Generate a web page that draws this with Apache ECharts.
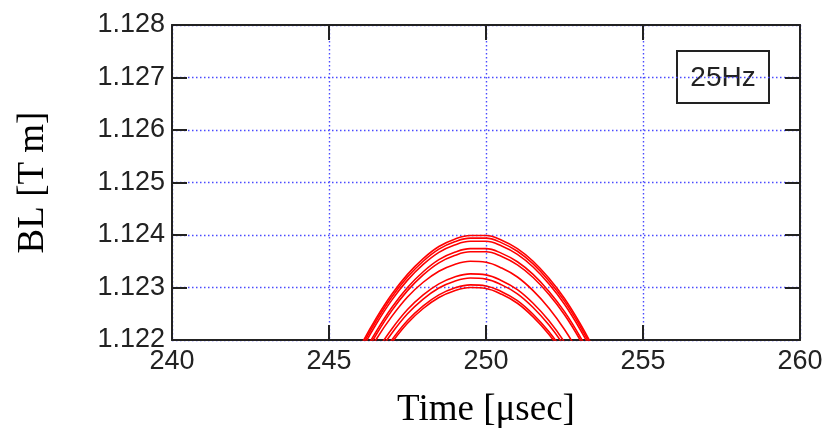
<!DOCTYPE html>
<html>
<head>
<meta charset="utf-8">
<script src="https://cdn.jsdelivr.net/npm/echarts@6/dist/echarts.min.js"></script>
<style>
html,body{margin:0;padding:0;background:#fff;}
#chart{width:836px;height:434px;}
</style>
</head>
<body>
<div id="chart"></div>
<script>
// ---- data ----
const timeUs = [245.5, 246.0, 246.5, 247.0, 247.5, 248.0, 248.5, 249.0, 249.5, 250.0, 250.5, 251.0, 251.5, 252.0, 252.5, 253.0, 253.5];
const curveA = [1.12127, 1.12188, 1.12241, 1.12287, 1.12325, 1.12355, 1.12378, 1.12392, 1.12399, 1.12399, 1.12390, 1.12374, 1.12350, 1.12318, 1.12279, 1.12231, 1.12176];
const curveB = [1.12122, 1.12183, 1.12236, 1.12282, 1.12320, 1.12350, 1.12373, 1.12387, 1.12394, 1.12394, 1.12385, 1.12369, 1.12345, 1.12313, 1.12274, 1.12226, 1.12171];
const curveC = [1.12116, 1.12177, 1.12230, 1.12276, 1.12314, 1.12344, 1.12367, 1.12381, 1.12388, 1.12388, 1.12379, 1.12363, 1.12339, 1.12307, 1.12268, 1.12220, 1.12165];
const curveD = [1.12102, 1.12163, 1.12216, 1.12262, 1.12300, 1.12330, 1.12353, 1.12367, 1.12374, 1.12374, 1.12365, 1.12349, 1.12325, 1.12293, 1.12254, 1.12206, 1.12151];
const curveE = [1.12096, 1.12157, 1.12210, 1.12256, 1.12294, 1.12324, 1.12347, 1.12361, 1.12368, 1.12368, 1.12359, 1.12343, 1.12319, 1.12287, 1.12248, 1.12200, 1.12145];
const curveF = [1.12089, 1.12149, 1.12201, 1.12245, 1.12282, 1.12310, 1.12331, 1.12344, 1.12350, 1.12348, 1.12337, 1.12320, 1.12294, 1.12261, 1.12220, 1.12171, 1.12114];
const curveG = [1.12065, 1.12125, 1.12177, 1.12221, 1.12258, 1.12286, 1.12307, 1.12320, 1.12326, 1.12324, 1.12313, 1.12296, 1.12270, 1.12237, 1.12196, 1.12147, 1.12090];
const curveH = [1.12057, 1.12117, 1.12169, 1.12213, 1.12250, 1.12278, 1.12299, 1.12312, 1.12318, 1.12316, 1.12305, 1.12288, 1.12262, 1.12229, 1.12188, 1.12139, 1.12082];
const curveI = [1.12044, 1.12104, 1.12156, 1.12200, 1.12237, 1.12265, 1.12286, 1.12299, 1.12305, 1.12303, 1.12292, 1.12275, 1.12249, 1.12216, 1.12175, 1.12126, 1.12069];
const curveJ = [1.12039, 1.12099, 1.12151, 1.12195, 1.12232, 1.12260, 1.12281, 1.12294, 1.12300, 1.12298, 1.12287, 1.12270, 1.12244, 1.12211, 1.12170, 1.12121, 1.12064];
const curves = [curveA, curveB, curveC, curveD, curveE, curveF, curveG, curveH, curveI, curveJ];

const xTicks = [240, 245, 250, 255, 260];
const yTicks = ['1.122', '1.123', '1.124', '1.125', '1.126', '1.127', '1.128'];
const xTitle = 'Time [\u03bcsec]';
const yTitle = 'BL [T m]';
const legendText = '25Hz';

// ---- chart ----
const chart = echarts.init(document.getElementById('chart'), null, {renderer: 'canvas'});
const tickFont = {fontFamily: 'Liberation Sans', fontSize: 27, color: '#222'};
const titleFont = {fontFamily: 'Liberation Serif', fontSize: 37, color: '#000'};
const gridLine = {show: true, lineStyle: {color: '#4a4aff', type: [1.5, 2.5], width: 1.4}};
const axLine = {show: true, onZero: false, lineStyle: {color: '#222', width: 2}};
const axTick = {show: true, inside: true, length: 15, lineStyle: {color: '#222', width: 2}};

const series = curves.map((c, i) => ({
  type: 'line',
  name: 'c' + i,
  data: c.map((v, j) => [timeUs[j], v]),
  smooth: 0.4,
  showSymbol: false,
  clip: true,
  lineStyle: {color: '#ff0000', width: 1.6},
  z: 3
}));

chart.setOption({
  animation: false,
  backgroundColor: '#fff',
  grid: {left: 172, right: 36, top: 25, bottom: 93},
  xAxis: [{
    type: 'value', min: xTicks[0], max: xTicks[xTicks.length - 1], interval: 5,
    position: 'bottom',
    axisLine: axLine, axisTick: axTick, splitLine: gridLine,
    axisLabel: Object.assign({margin: 8, formatter: v => String(v)}, tickFont),
    name: xTitle, nameLocation: 'middle', nameGap: 52, nameTextStyle: titleFont
  }, {
    type: 'value', min: xTicks[0], max: xTicks[xTicks.length - 1], interval: 5,
    position: 'top',
    axisLine: axLine, axisTick: axTick, splitLine: {show: false},
    axisLabel: {show: false}
  }],
  yAxis: [{
    type: 'value', min: Number(yTicks[0]), max: Number(yTicks[yTicks.length - 1]), interval: 0.001,
    position: 'left',
    axisLine: axLine, axisTick: axTick, splitLine: gridLine,
    axisLabel: Object.assign({margin: 7, formatter: v => Number(v).toFixed(3)}, tickFont),
    name: yTitle, nameLocation: 'middle', nameGap: 120, nameRotate: 90, nameTextStyle: titleFont
  }, {
    type: 'value', min: Number(yTicks[0]), max: Number(yTicks[yTicks.length - 1]), interval: 0.001,
    position: 'right',
    axisLine: axLine, axisTick: axTick, splitLine: {show: false},
    axisLabel: {show: false}
  }],
  graphic: [{
    type: 'group', left: 676, top: 50, z: 10,
    children: [{
      type: 'rect', shape: {x: 0, y: 0, width: 92, height: 52},
      style: {fill: '#fff', stroke: '#222', lineWidth: 2}
    }, {
      type: 'text', x: 46, y: 27,
      style: {text: legendText, fill: '#222', font: '28px "Liberation Sans"', textAlign: 'center', textVerticalAlign: 'middle'}
    }]
  }],
  series: series
});
</script>
</body>
</html>
